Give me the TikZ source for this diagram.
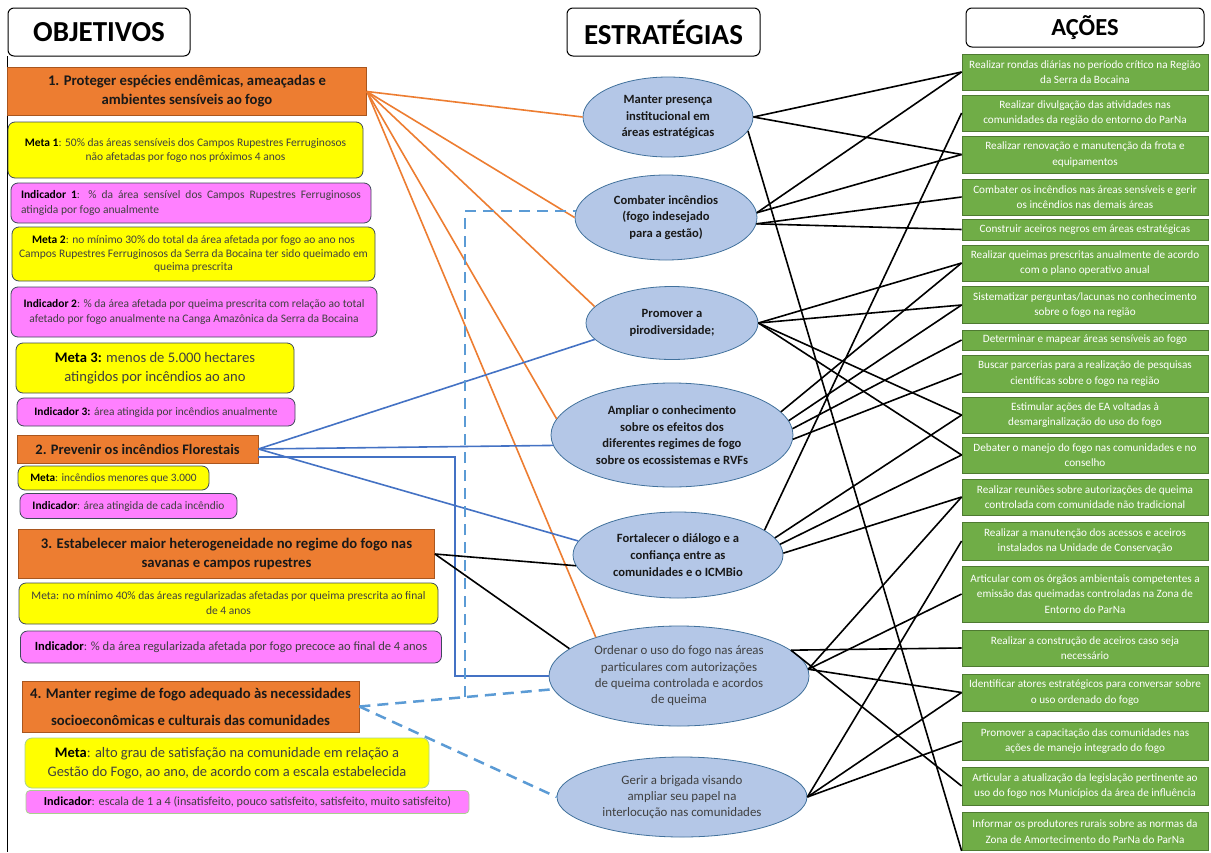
\documentclass[tikz,border=0pt]{standalone}
\usepackage{fontspec}
\setmainfont{Carlito}
\usetikzlibrary{shapes.geometric,calc}
\definecolor{org}{HTML}{ED7D31}
\definecolor{orgb}{HTML}{A9561E}
\definecolor{yel}{HTML}{FFFF00}
\definecolor{pnk}{HTML}{FF80FF}
\definecolor{ell}{HTML}{B4C7E7}
\definecolor{ellb}{HTML}{41719C}
\definecolor{grn}{HTML}{70AD47}
\definecolor{grnb}{HTML}{4E7A31}
\definecolor{blu}{HTML}{4472C4}
\definecolor{dblu}{HTML}{5B9BD5}
\definecolor{txt}{HTML}{404040}
\definecolor{bdr}{HTML}{3F4A5A}
\definecolor{gbdr}{HTML}{A9D18E}
\newcommand{\lbl}[1]{\textcolor{black}{\bfseries #1}}
\begin{document}
\begin{tikzpicture}[x=1pt,y=-1pt,
  hdr/.style={draw=black,line width=1pt,rounded corners=6pt,fill=white,inner sep=0pt,font=\bfseries\fontsize{29}{32}\selectfont},
  obj/.style={draw=orgb,fill=org,line width=0.8pt,inner sep=0pt,align=center,text=black!90,font=\bfseries\fontsize{14.7}{19}\selectfont},
  ym/.style={draw=bdr,fill=yel,rounded corners=7pt,line width=0.8pt,inner sep=0pt,align=center,text=txt,font=\fontsize{11.5}{14}\selectfont},
  pk/.style={draw=bdr,fill=pnk,rounded corners=7pt,line width=0.8pt,inner sep=0pt,align=center,text=txt,font=\fontsize{11.5}{15}\selectfont},
  el/.style={ellipse,draw=ellb,fill=ell,line width=0.8pt,inner sep=0pt,align=center,text=black!90,font=\bfseries\fontsize{12.6}{16.7}\selectfont},
  elr/.style={el,text=txt,font=\fontsize{12.9}{16.3}\selectfont},
  ac/.style={draw=grnb,fill=grn,line width=0.8pt,inner sep=0pt,align=center,text=white,minimum width=246pt,font=\fontsize{11.2}{15.7}\selectfont},
  ol/.style={draw=org,line width=1.6pt},
  bl/.style={draw=blu,line width=1.6pt},
  dl/.style={draw=dblu,line width=2.5pt,dash pattern=on 11pt off 7pt},
  kl/.style={draw=black,line width=1.6pt}
]
\useasboundingbox (0,0) rectangle (1211,852);
\fill[white] (0,0) rectangle (1211,852);
\draw[line width=1pt] (7,56) -- (7,852);

% headers
\node[hdr,minimum width=182pt,minimum height=48pt] (h1) at (99,32) {OBJETIVOS};
\node[hdr,minimum width=193pt,minimum height=48pt] (h2) at (663.5,32) {ESTRATÉGIAS};
\node[hdr,minimum width=238pt,minimum height=39pt,font=\bfseries\fontsize{24.5}{28}\selectfont] (h3) at (1085,27.5) {AÇÕES};

% objectives
\node[obj,minimum width=359pt,minimum height=48pt] (o1) at (187,91.5) {1. Proteger espécies endêmicas, ameaçadas e\\ambientes sensíveis ao fogo};
\node[ym,minimum width=355pt,minimum height=56pt] (m1) at (185.5,150) {\lbl{Meta 1}: 50\% das áreas sensíveis dos Campos Rupestres Ferruginosos\\não afetadas por fogo nos próximos 4 anos};
\node[pk,minimum width=360pt,minimum height=40pt,align=justify,text width=340pt] (i1) at (191,203) {\lbl{Indicador 1}: \% da área sensível dos Campos Rupestres Ferruginosos\linebreak atingida por fogo anualmente};
\node[ym,minimum width=363pt,minimum height=54pt,font=\fontsize{11.5}{13.5}\selectfont] (m2) at (193.5,254) {\lbl{Meta 2}: no mínimo 30\% do total da área afetada por fogo ao ano nos\\Campos Rupestres Ferruginosos da Serra da Bocaina ter sido queimado em\\queima prescrita};
\node[pk,minimum width=366pt,minimum height=50pt] (i2) at (194,312) {\lbl{Indicador 2}: \% da área afetada por queima prescrita com relação ao total\\afetado por fogo anualmente na Canga Amazônica da Serra da Bocaina};
\node[ym,minimum width=278pt,minimum height=50pt,font=\fontsize{14.6}{19.5}\selectfont] (m3) at (155,368) {\lbl{Meta 3:} menos de 5.000 hectares\\atingidos por incêndios ao ano};
\node[pk,minimum width=278pt,minimum height=28pt,font=\fontsize{11.4}{14}\selectfont] (i3) at (156,412) {\lbl{Indicador 3:} área atingida por incêndios anualmente};
\node[obj,minimum width=241pt,minimum height=28pt,font=\bfseries\fontsize{14.5}{17}\selectfont] (o2) at (137.5,449) {2. Prevenir os incêndios Florestais};
\node[ym,minimum width=191pt,minimum height=24pt,font=\fontsize{11.3}{14}\selectfont] (m4) at (113.5,478) {\lbl{Meta}: incêndios menores que 3.000};
\node[pk,minimum width=217pt,minimum height=25pt,font=\fontsize{11.4}{14}\selectfont] (i4) at (128.5,506) {\lbl{Indicador}: área atingida de cada incêndio};
\node[obj,minimum width=416pt,minimum height=49pt,font=\bfseries\fontsize{14.7}{19}\selectfont] (o3) at (226.5,554) {3. Estabelecer maior heterogeneidade no regime do fogo nas\\savanas e campos rupestres};
\node[ym,minimum width=419pt,minimum height=41pt,font=\fontsize{11.5}{15}\selectfont] (m5) at (228.5,603.5) {Meta: no mínimo 40\% das áreas regularizadas afetadas por queima prescrita ao final\\de 4 anos};
\node[pk,minimum width=421pt,minimum height=32pt,font=\fontsize{12.5}{15}\selectfont] (i5) at (231,647) {\lbl{Indicador}: \% da área regularizada afetada por fogo precoce ao final de 4 anos};
\node[obj,minimum width=337pt,minimum height=51pt,font=\bfseries\fontsize{14.7}{27}\selectfont] (o4) at (190.5,706.5) {4. Manter regime de fogo adequado às necessidades\\socioeconômicas e culturais das comunidades};
\node[ym,draw=gbdr,minimum width=404pt,minimum height=50pt,font=\fontsize{14.5}{18.5}\selectfont] (m6) at (227,763) {\lbl{Meta}: alto grau de satisfação na comunidade em relação a\\Gestão do Fogo, ao ano, de acordo com a escala estabelecida};
\node[pk,draw=gbdr,rounded corners=4pt,minimum width=443pt,minimum height=23pt,font=\fontsize{12.2}{14}\selectfont] (i6) at (247.5,802) {\lbl{Indicador}: escala de 1 a 4 (insatisfeito, pouco satisfeito, satisfeito, muito satisfeito)};

% strategies
\node[el,minimum width=170pt,minimum height=80pt] (e1) at (668,117) {Manter presença\\institucional em\\áreas estratégicas};
\node[el,minimum width=182pt,minimum height=85pt] (e2) at (666,217.5) {Combater incêndios\\(fogo indesejado\\para a gestão)};
\node[el,minimum width=172pt,minimum height=73pt] (e3) at (672,323) {Promover a\\pirodiversidade;};
\node[el,minimum width=242pt,minimum height=104pt] (e4) at (672,435) {Ampliar o conhecimento\\sobre os efeitos dos\\diferentes regimes de fogo\\sobre os ecossistemas e RVFs};
\node[el,minimum width=210pt,minimum height=86pt] (e5) at (678,555) {Fortalecer o diálogo e a\\confiança entre as\\comunidades e o ICMBio};
\node[elr,minimum width=260pt,minimum height=100pt] (e6) at (679,676) {Ordenar o uso do fogo nas áreas\\particulares com autorizações\\de queima controlada e acordos\\de queima};
\node[elr,minimum width=250pt,minimum height=80pt] (e7) at (682,797) {Gerir a brigada visando\\ampliar seu papel na\\interlocução nas comunidades};

% actions
\node[ac,minimum height=36pt] (a1) at (1085,72) {Realizar rondas diárias no período crítico na Região\\da Serra da Bocaina};
\node[ac,minimum height=36pt] (a2) at (1085,113) {Realizar divulgação das atividades nas\\comunidades da região do entorno do ParNa};
\node[ac,minimum height=37pt] (a3) at (1085,154.5) {Realizar renovação e manutenção da frota e\\equipamentos};
\node[ac,minimum height=36pt] (a4) at (1085,197) {Combater os incêndios nas áreas sensíveis e gerir\\os incêndios nas demais áreas};
\node[ac,minimum height=21pt] (a5) at (1085,229.5) {Construir aceiros negros em áreas estratégicas};
\node[ac,minimum height=36pt] (a6) at (1085,263) {Realizar queimas prescritas anualmente de acordo\\com o plano operativo anual};
\node[ac,minimum height=37pt] (a7) at (1085,305) {Sistematizar perguntas/lacunas no conhecimento\\sobre o fogo na região};
\node[ac,minimum height=20pt] (a8) at (1085,340) {Determinar e mapear áreas sensíveis ao fogo};
\node[ac,minimum height=37pt] (a9) at (1085,373.5) {Buscar parcerias para a realização de pesquisas\\científicas sobre o fogo na região};
\node[ac,minimum height=36pt] (a10) at (1085,415) {Estimular ações de EA voltadas à\\desmarginalização do uso do fogo};
\node[ac,minimum height=36pt] (a11) at (1085,455) {Debater o manejo do fogo nas comunidades e no\\conselho};
\node[ac,minimum height=36pt] (a12) at (1085,497) {Realizar reuniões sobre autorizações de queima\\controlada com comunidade não tradicional};
\node[ac,minimum height=38pt] (a13) at (1085,541) {Realizar a manutenção dos acessos e aceiros\\instalados na Unidade de Conservação};
\node[ac,minimum height=56pt] (a14) at (1085,594) {Articular com os órgãos ambientais competentes a\\emissão das queimadas controladas na Zona de\\Entorno do ParNa};
\node[ac,minimum height=36pt] (a15) at (1085,648) {Realizar a construção de aceiros caso seja\\necessário};
\node[ac,minimum height=37pt] (a16) at (1085,692.5) {Identificar atores estratégicos para conversar sobre\\o uso ordenado do fogo};
\node[ac,minimum height=38pt] (a17) at (1085,741) {Promover a capacitação das comunidades nas\\ações de manejo integrado do fogo};
\node[ac,minimum height=38pt] (a18) at (1085,786) {Articular a atualização da legislação pertinente ao\\uso do fogo nos Municípios da área de influência};
\node[ac,minimum height=38pt] (a19) at (1085,831.5) {Informar os produtores rurais sobre as normas da\\Zona de Amortecimento do ParNa do ParNa};

% objective -> strategy connectors
\draw[ol] (o1.east) -- (e1.west);
\draw[ol] (o1.east) -- (e2.west);
\draw[ol] (o1.east) -- (e3.168);
\draw[ol] (o1.east) -- (e4.172);
\draw[ol] (o1.east) -- (e6.155);
\draw[bl] (o2.east) -- (e3.192);
\draw[bl] (o2.east) -- (e4.185);
\draw[bl] (o2.east) -- (e5.172);
\coordinate (bk) at (455,457);
\draw[bl] (o2.east |- bk) -- (bk) |- (e6.west);
\draw[kl] (o3.east) -- (e5.186);
\draw[kl] (o3.east) -- (e6.166);
\coordinate (dk) at (465,697);
\draw[dl] (o4.east) -- (e6.186);
\draw[dl] (o4.east) -- (e7.west);
\draw[dl] (dk) |- (e2.176);

% strategy -> action connectors
\draw[kl] (e1.east) -- (a1.west);
\draw[kl] (e1.east) -- (a3.west);
\draw[kl] (e1.-10) -- (a19.south west);
\draw[kl] (e2.3) -- (a1.west);
\draw[kl] (e2.3) -- (a3.west);
\draw[kl] (e2.-4) -- (a4.west);
\draw[kl] (e2.-4) -- (a5.west);
\draw[kl] (e3.east) -- (a6.west);
\draw[kl] (e3.east) -- (a7.west);
\draw[kl] (e3.east) -- (a10.west);
\draw[kl] (e3.east) -- (a11.west);
\draw[kl] (e4.12) -- (a6.west);
\draw[kl] (e4.7) -- (a7.west);
\draw[kl] (e4.3) -- (a8.west);
\draw[kl] (e4.-2) -- (a9.west);
\draw[kl] (e5.16) -- (a2.west);
\draw[kl] (e5.10) -- (a10.west);
\draw[kl] (e5.6) -- (a11.west);
\draw[kl] (e5.1) -- (a12.west);
\draw[kl] (e6.13) -- (a15.west);
\draw[kl] (e6.13) -- (a18.west);
\draw[kl] (e6.3) -- (a12.west);
\draw[kl] (e6.3) -- (a14.west);
\draw[kl] (e6.3) -- (a16.west);
\draw[kl] (e7.east) -- (a13.west);
\draw[kl] (e7.east) -- (a16.west);
\draw[kl] (e7.east) -- (a17.west);
\end{tikzpicture}
\end{document}
